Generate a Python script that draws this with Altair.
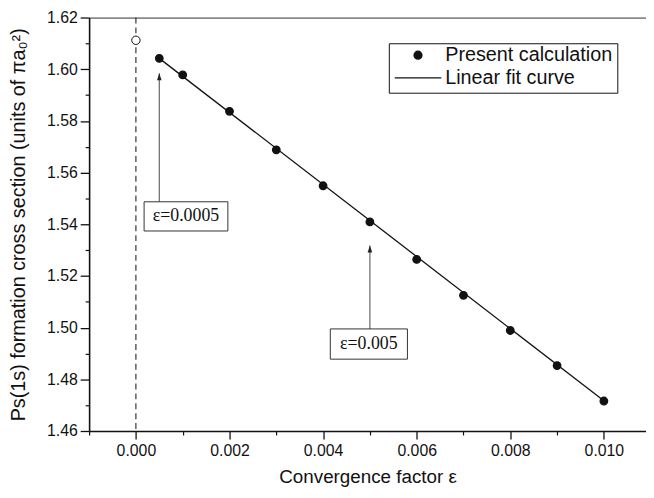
import altair as alt
import pandas as pd

# ---- data ----
eps = [0.0005, 0.001, 0.002, 0.003, 0.004, 0.005, 0.006, 0.007, 0.008, 0.009, 0.010]
sigma = [1.6042, 1.5978, 1.5837, 1.5688, 1.5549, 1.5409, 1.5264, 1.5125, 1.4989, 1.4853, 1.4716]
fit_eps = [0.0005, 0.010]
fit_sigma = [1.6042, 1.4717]
extrap_eps = [0.0]
extrap_sigma = [1.6112]
series_names = ["Present calculation", "Linear fit curve"]

x_major = [0.000, 0.002, 0.004, 0.006, 0.008, 0.010]
x_minor = [-0.001, 0.001, 0.003, 0.005, 0.007, 0.009]
y_major = [1.46, 1.48, 1.50, 1.52, 1.54, 1.56, 1.58, 1.60, 1.62]
y_minor = [1.47, 1.49, 1.51, 1.53, 1.55, 1.57, 1.59, 1.61]

ann_text = ["\u03b5=0.0005", "\u03b5=0.005"]
ann_x = [0.0005, 0.005]
ann_tip = [1.5984, 1.5318]
box_left = [0.000175, 0.004154]
box_right = [0.001965, 0.005802]
box_top = [1.5487, 1.4995]
box_bottom = [1.5374, 1.4878]

pts = pd.DataFrame({"eps": eps, "sigma": sigma, "series": series_names[0]})
fit = pd.DataFrame({"eps": fit_eps, "sigma": fit_sigma})
ext = pd.DataFrame({"eps": extrap_eps, "sigma": extrap_sigma})
ann = pd.DataFrame({
    "text": ann_text, "x": ann_x, "tip": ann_tip,
    "x1": box_left, "x2": box_right, "y1": box_top, "y2": box_bottom,
})
ann["tx"] = (ann["x1"] + ann["x2"]) / 2
ann["ty"] = (ann["y1"] + ann["y2"]) / 2

FONT = "Liberation Sans"
INK = "#111111"

x_scale = alt.Scale(domain=[-0.001, 0.0109], nice=False, zero=False)
y_scale = alt.Scale(domain=[1.46, 1.62], nice=False, zero=False)

x_major_axis = alt.Axis(
    orient="bottom", values=x_major, format=".3f", grid=False,
    tickSize=8, tickWidth=1.3, tickColor=INK, domainWidth=1.6, domainColor=INK,
    labelFont=FONT, labelFontSize=16, labelColor=INK, labelPadding=4,
    labelFlush=False, labelOverlap=False,
    title="Convergence factor \u03b5", titleFont=FONT, titleFontSize=19,
    titleFontWeight="normal", titleColor=INK, titlePadding=9,
)
x_minor_axis = alt.Axis(
    orient="bottom", values=x_minor, grid=False, tickSize=4, tickWidth=1.2,
    tickColor=INK, labels=False, domain=False, title=None,
)
x_top_axis = alt.Axis(
    orient="top", grid=False, ticks=False, labels=False, title=None,
    domainColor="#8a8a8a", domainWidth=1.8,
)
y_major_axis = alt.Axis(
    orient="left", values=y_major, format=".2f", grid=False,
    tickSize=9, tickWidth=1.3, tickColor=INK, domainWidth=1.6, domainColor=INK,
    labelFont=FONT, labelFontSize=16, labelColor=INK, labelPadding=3,
    labelOverlap=False, labelFlush=False,
    title="Ps(1s) formation cross section (units of \u03c0a\u2080\u00b2)",
    titleFont=FONT, titleFontSize=20, titleFontWeight="normal",
    titleColor=INK, titlePadding=18,
)
y_minor_axis = alt.Axis(
    orient="left", values=y_minor, grid=False, tickSize=4, tickWidth=1.2,
    tickColor=INK, labels=False, domain=False, title=None,
)

circle_path = "M0.17,0A0.17,0.17,0,1,1,-0.17,0A0.17,0.17,0,1,1,0.17,0Z"
line_path = "M-1,0L1,0"
legend = alt.Legend(
    title=None, orient="none", legendX=303, legendY=26, padding=5,
    strokeColor=INK, labelFont=FONT, labelFontSize=20, labelColor=INK,
    labelOffset=3, labelLimit=400, symbolSize=2209, clipHeight=14, rowPadding=3,
    symbolStrokeColor=INK, symbolStrokeWidth=1.3, symbolFillColor=INK, symbolOpacity=1,
)

vline = alt.Chart(ext).mark_rule(strokeDash=[6, 4], color="#222222", strokeWidth=1.1).encode(
    x=alt.X("eps:Q", scale=x_scale, axis=x_top_axis),
)

fit_line = alt.Chart(fit).mark_line(color=INK, strokeWidth=1.3).encode(
    x=alt.X("eps:Q", scale=x_scale, axis=x_major_axis),
    y=alt.Y("sigma:Q", scale=y_scale, axis=y_major_axis),
)

points = alt.Chart(pts).mark_point(filled=True, size=2000, opacity=1, stroke=INK, strokeWidth=1.3).encode(
    x=alt.X("eps:Q", scale=x_scale, axis=x_minor_axis),
    y=alt.Y("sigma:Q", scale=y_scale, axis=y_minor_axis),
    color=alt.Color("series:N", scale=alt.Scale(domain=series_names, range=[INK, INK]), legend=legend),
    shape=alt.Shape("series:N", scale=alt.Scale(domain=series_names, range=[circle_path, line_path]), legend=legend),
)

open_pt = alt.Chart(ext).mark_point(filled=False, fill="white", stroke=INK, strokeWidth=1, size=72, opacity=1).encode(
    x=alt.X("eps:Q", scale=x_scale, axis=None),
    y=alt.Y("sigma:Q", scale=y_scale, axis=None),
)

shafts = alt.Chart(ann).mark_rule(color="#666666", strokeWidth=1.2).encode(
    x=alt.X("x:Q", scale=x_scale, axis=None),
    y=alt.Y("y1:Q", scale=y_scale, axis=None),
    y2="tip:Q",
)

heads = alt.Chart(ann).mark_point(shape="M0,0L-0.33,1L0.33,1Z", size=196, filled=True, color="#222222", opacity=1).encode(
    x=alt.X("x:Q", scale=x_scale, axis=None),
    y=alt.Y("tip:Q", scale=y_scale, axis=None),
)

boxes = alt.Chart(ann).mark_rect(fill="white", stroke="#333333", strokeWidth=1).encode(
    x=alt.X("x1:Q", scale=x_scale, axis=None),
    x2="x2:Q",
    y=alt.Y("y1:Q", scale=y_scale, axis=None),
    y2="y2:Q",
)

labels = alt.Chart(ann).mark_text(font="Liberation Serif", fontSize=18, color=INK, align="center", baseline="middle").encode(
    x=alt.X("tx:Q", scale=x_scale, axis=None),
    y=alt.Y("ty:Q", scale=y_scale, axis=None),
    text="text:N",
)

chart = alt.layer(
    vline, fit_line, points, open_pt, shafts, heads, boxes, labels
).resolve_axis(
    x="independent", y="independent"
).properties(
    width=563, height=418,
    autosize=alt.AutoSizeParams(type="none"),
    padding={"left": 82, "top": 7, "right": 0, "bottom": 57},
    background="white",
).configure_view(stroke=None)

chart.save("out.html", embed_options={"renderer": "svg", "actions": False})
